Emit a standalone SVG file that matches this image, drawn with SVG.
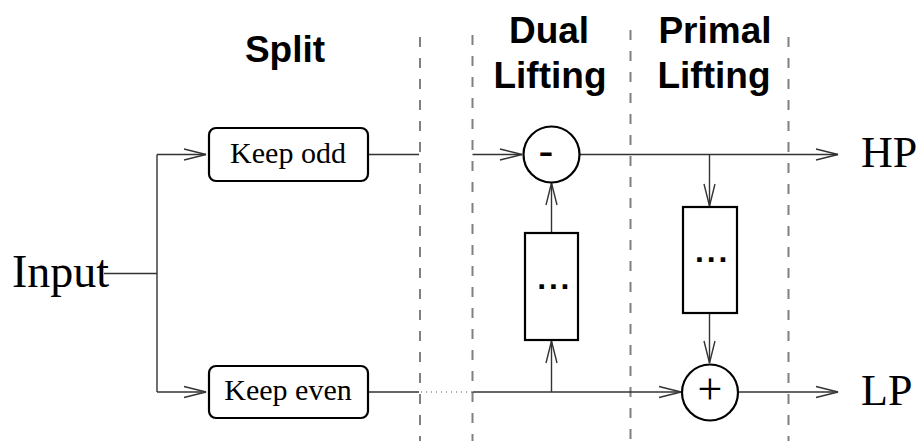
<svg xmlns="http://www.w3.org/2000/svg" width="922" height="441" viewBox="0 0 922 441">
<style>
.sep{stroke:#808080;stroke-width:2;stroke-dasharray:10 11;fill:none}
.ln{stroke:#333;stroke-width:1.4;fill:none}
.box{fill:#fff;stroke:#000;stroke-width:2.2}
.hd{font-family:"Liberation Sans",Arial,sans-serif;font-weight:bold;font-size:37px;text-anchor:middle;fill:#000}
.tm{font-family:"Liberation Serif","Times New Roman",serif;fill:#000}
.dots{font-family:"Liberation Sans",Arial,sans-serif;font-weight:bold;font-size:32px;letter-spacing:2.8px;fill:#000}
</style>
<defs>
<marker id="arr" markerUnits="userSpaceOnUse" viewBox="-24 -8 26 16" refX="0" refY="0" markerWidth="26" markerHeight="16" orient="auto">
<path d="M-22,-5.5 L0,0 L-22,5.5" fill="none" stroke="#333" stroke-width="1.4"/>
</marker>
</defs>
<rect width="922" height="441" fill="#fff"/>
<g id="separators">
<line class="sep" x1="420" y1="37" x2="420" y2="441"/>
<line class="sep" x1="472.5" y1="35" x2="472.5" y2="441"/>
<line class="sep" x1="630.5" y1="30" x2="630.5" y2="441"/>
<line class="sep" x1="788.5" y1="37" x2="788.5" y2="441"/>
</g>
<g id="headers">
<text class="hd" x="285" y="62">Split</text>
<text class="hd" x="549" y="43">Dual</text>
<text class="hd" x="550" y="88">Lifting</text>
<text class="hd" x="715" y="43">Primal</text>
<text class="hd" x="714" y="88">Lifting</text>
</g>
<g id="connectors">
<line class="ln" x1="104" y1="273.5" x2="157" y2="273.5"/>
<line class="ln" x1="157" y1="154.5" x2="157" y2="392"/>
<line class="ln" x1="157" y1="154.5" x2="206" y2="154.5" marker-end="url(#arr)"/>
<line class="ln" x1="157" y1="392" x2="206" y2="392" marker-end="url(#arr)"/>
<line class="ln" x1="368" y1="154.5" x2="419" y2="154.5"/>
<line class="ln" x1="472.5" y1="154.5" x2="522" y2="154.5" marker-end="url(#arr)"/>
<line class="ln" x1="580" y1="154.5" x2="838" y2="154.5" marker-end="url(#arr)"/>
<line class="ln" x1="709.5" y1="154.5" x2="709.5" y2="206" marker-end="url(#arr)"/>
<line class="ln" x1="709.5" y1="313" x2="709.5" y2="363" marker-end="url(#arr)"/>
<line class="ln" x1="368" y1="392" x2="419" y2="392"/>
<line x1="421" y1="392" x2="472" y2="392" stroke="#555" stroke-width="1.2" stroke-dasharray="1 4"/>
<line class="ln" x1="472.5" y1="392" x2="681" y2="392" marker-end="url(#arr)"/>
<line class="ln" x1="551.5" y1="392" x2="551.5" y2="341" marker-end="url(#arr)"/>
<line class="ln" x1="551.5" y1="233" x2="551.5" y2="183" marker-end="url(#arr)"/>
<line class="ln" x1="738" y1="392" x2="838" y2="392" marker-end="url(#arr)"/>
</g>
<g id="input">
<text class="tm" x="12" y="287" font-size="46">Input</text>
</g>
<g id="keep-odd">
<rect class="box" x="209" y="128" width="159" height="53" rx="7"/>
<text class="tm" x="288" y="163" font-size="30" text-anchor="middle">Keep odd</text>
</g>
<g id="keep-even">
<rect class="box" x="209" y="366" width="159" height="52" rx="7"/>
<text class="tm" x="288" y="400" font-size="30" text-anchor="middle">Keep even</text>
</g>
<g id="minus">
<circle class="box" cx="551.5" cy="154.5" r="28"/>
<text x="546" y="167" font-family="Liberation Sans,Arial,sans-serif" font-size="46" text-anchor="middle">-</text>
</g>
<g id="dual-filter">
<rect class="box" x="525" y="233" width="53" height="107"/>
<text class="dots" x="537.2" y="289">...</text>
</g>
<g id="primal-filter">
<rect class="box" x="683" y="207" width="54" height="106"/>
<text class="dots" x="695" y="262">...</text>
</g>
<g id="plus">
<circle class="box" cx="710" cy="392.5" r="28"/>
<text class="tm" x="710" y="404" font-size="44" text-anchor="middle">+</text>
</g>
<g id="hp">
<text class="tm" x="861" y="167" font-size="44">HP</text>
</g>
<g id="lp">
<text class="tm" x="861" y="405" font-size="44">LP</text>
</g>
</svg>
